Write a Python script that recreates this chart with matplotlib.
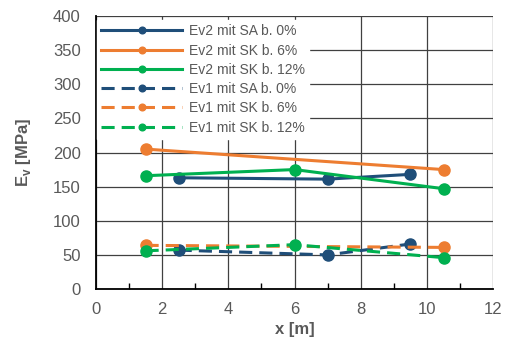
import numpy as np
import matplotlib.pyplot as plt
from matplotlib.ticker import MultipleLocator

plt.rcParams['font.family'] = ['Liberation Sans', 'DejaVu Sans']

navy = '#1F4E79'
orange = '#ED7D31'
green = '#00B050'

# Ev2 values
x_sa = [2.5, 7, 9.5]
ev2_sa = [163, 161, 168]
x_sk6 = [1.5, 10.5]
ev2_sk6 = [205, 175]
x_sk12 = [1.5, 6, 10.5]
ev2_sk12 = [166, 175, 147]

# Ev1 values
ev1_sa = [57, 50, 66]
ev1_sk6 = [64, 61]
ev1_sk12 = [56, 65, 46]

fig = plt.figure(figsize=(5.1, 3.47), dpi=100)
ax = fig.add_axes([0.188, 0.167, 0.779, 0.787])

lw = 2.2
ms = 8
ax.plot(x_sa, ev2_sa, '-o', color=navy, lw=lw, ms=ms, label='Ev2 mit SA b. 0%')
ax.plot(x_sk6, ev2_sk6, '-o', color=orange, lw=lw, ms=ms, label='Ev2 mit SK b. 6%')
ax.plot(x_sk12, ev2_sk12, '-o', color=green, lw=lw, ms=ms, label='Ev2 mit SK b. 12%')
ax.plot(x_sa, ev1_sa, '--o', color=navy, lw=lw, ms=ms, dashes=(4.3, 2.3), label='Ev1 mit SA b. 0%')
ax.plot(x_sk6, ev1_sk6, '--o', color=orange, lw=lw, ms=ms, dashes=(4.3, 2.3), label='Ev1 mit SK b. 6%')
ax.plot(x_sk12, ev1_sk12, '--o', color=green, lw=lw, ms=ms, dashes=(4.3, 2.3), label='Ev1 mit SK b. 12%')

ax.set_xlim(0, 12)
ax.set_ylim(0, 400)
ax.xaxis.set_major_locator(MultipleLocator(2))
ax.xaxis.set_minor_locator(MultipleLocator(1))
ax.yaxis.set_major_locator(MultipleLocator(50))
ax.grid(True, which='major', color='#404040', lw=0.9)
ax.set_axisbelow(True)

for s in ['top', 'right']:
    ax.spines[s].set_visible(False)
for s in ['left', 'bottom']:
    ax.spines[s].set_linewidth(1.3)
    ax.spines[s].set_color('black')

ax.tick_params(axis='both', which='major', labelsize=12, labelcolor='#595959', length=0)
ax.tick_params(axis='y', which='major', pad=11)
ax.tick_params(axis='x', which='major', pad=9)
ax.tick_params(axis='x', which='minor', direction='in', length=4, width=1)

ax.set_xlabel('x [m]', fontsize=12, fontweight='bold', color='#595959', labelpad=4)
ax.set_ylabel('E$_\\mathregular{v}$ [MPa]', fontsize=12, fontweight='bold', color='#595959', labelpad=14)

leg = ax.legend(loc='upper left', bbox_to_anchor=(0.0, 0.99), fontsize=10,
                frameon=True, framealpha=1, edgecolor='white', fancybox=False,
                handlelength=5.8, handletextpad=0.5, labelspacing=0.38,
                borderpad=0.3, borderaxespad=0.1, markerscale=0.6)
for t in leg.get_texts():
    t.set_color('#595959')

fig.savefig('out.png', dpi=100)
